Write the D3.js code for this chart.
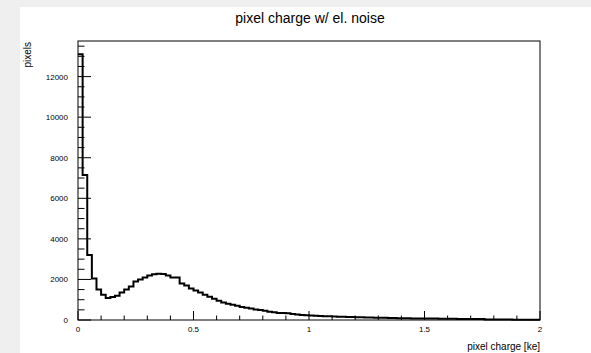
<!DOCTYPE html>
<html>
<head>
<meta charset="utf-8">
<script src="https://cdn.jsdelivr.net/npm/d3@7"></script>
<style>
html,body{margin:0;padding:0;background:#efefef;}
svg{display:block;font-family:"Liberation Sans",Arial,Helvetica,sans-serif;}
</style>
</head>
<body>
<svg id="c" width="591" height="353"></svg>
<script>
// Histogram: 100 bins from 0 to 2 ke
const binLow = 0, binHigh = 2, nBins = 100;
const counts = [
 13100, 7150, 3200, 2050, 1500, 1250, 1080, 1130, 1200, 1350,
 1500, 1650, 1900, 2000, 2100, 2200, 2250, 2280, 2270, 2200,
 2100, 2100, 1800, 1700, 1550, 1450, 1350, 1250, 1150, 1050,
 950, 860, 800, 750, 700, 640, 600, 570, 520, 490,
 450, 410, 380, 340, 340, 330, 300, 270, 250, 240,
 220, 210, 200, 190, 180, 175, 165, 160, 150, 145,
 140, 130, 125, 120, 115, 110, 105, 100, 95, 90,
 88, 85, 80, 78, 75, 72, 70, 68, 65, 62,
 60, 58, 55, 52, 50, 48, 46, 45, 30, 25,
 24, 22, 20, 20, 18, 18, 16, 15, 15, 14
];
const title = "pixel charge w/ el. noise";
const xTitle = "pixel charge [ke]";
const yTitle = "pixels";
const xTicks = [0, 0.5, 1, 1.5, 2];
const xTickLabels = ["0", "0.5", "1", "1.5", "2"];
const yTicks = [0, 2000, 4000, 6000, 8000, 10000, 12000];

const svg = d3.select("#c");
const W = 591, H = 353;
const L = 78, R = 540, T = 41, B = 320;

svg.append("rect").attr("x", 20).attr("y", 7).attr("width", W - 20).attr("height", H - 7).attr("fill", "#ffffff");

const binW = (binHigh - binLow) / nBins;
const yMax = d3.max(counts) * 1.05;
const x = d3.scaleLinear().domain([binLow, binHigh]).range([L, R]);
const y = d3.scaleLinear().domain([0, yMax]).range([B, T]);

// histogram step path
const pts = [];
counts.forEach((c, i) => {
  const x0 = binLow + i * binW, x1 = x0 + binW;
  pts.push([x(x0), y(c)]);
  pts.push([x(x1), y(c)]);
});
const line = d3.line();
svg.append("path").attr("d", line(pts)).attr("fill", "none")
  .attr("stroke", "#000").attr("stroke-width", 2).attr("stroke-linejoin", "miter");

// frame
svg.append("rect").attr("x", L).attr("y", T).attr("width", R - L).attr("height", B - T)
  .attr("fill", "none").attr("stroke", "#000").attr("stroke-width", 1);

// x axis ticks (inward)
const xMinor = d3.range(0, 2.0001, 0.1);
const gx = svg.append("g");
xMinor.forEach(v => {
  const major = xTicks.some(t => Math.abs(t - v) < 1e-6);
  gx.append("line").attr("x1", x(v)).attr("x2", x(v)).attr("y1", B).attr("y2", B - (major ? 9 : 4.5))
    .attr("stroke", "#000").attr("stroke-width", 1);
});
xTicks.forEach((v, i) => {
  gx.append("text").attr("x", x(v)).attr("y", B + 12).attr("text-anchor", "middle")
    .attr("font-size", 8).attr("fill", "#000").text(xTickLabels[i]);
});

// y axis ticks (inward)
const yMinor = d3.range(0, yMax, 500);
const gy = svg.append("g");
yMinor.forEach(v => {
  const major = v % 2000 === 0;
  gy.append("line").attr("x1", L).attr("x2", L + (major ? 13 : 6.5)).attr("y1", y(v)).attr("y2", y(v))
    .attr("stroke", "#000").attr("stroke-width", 1);
});
yTicks.forEach(v => {
  gy.append("text").attr("x", L - 10).attr("y", y(v) + 3).attr("text-anchor", "end")
    .attr("font-size", 8).attr("fill", "#000").text(v);
});

// titles
svg.append("text").attr("x", 310).attr("y", 23).attr("text-anchor", "middle")
  .attr("font-size", 14).attr("fill", "#000").text(title);
svg.append("text").attr("x", R).attr("y", 350).attr("text-anchor", "end")
  .attr("font-size", 10).attr("fill", "#000").text(xTitle);
svg.append("text").attr("transform", `translate(31,${T + 1}) rotate(-90)`).attr("text-anchor", "end")
  .attr("font-size", 10).attr("fill", "#000").text(yTitle);
</script>
</body>
</html>
